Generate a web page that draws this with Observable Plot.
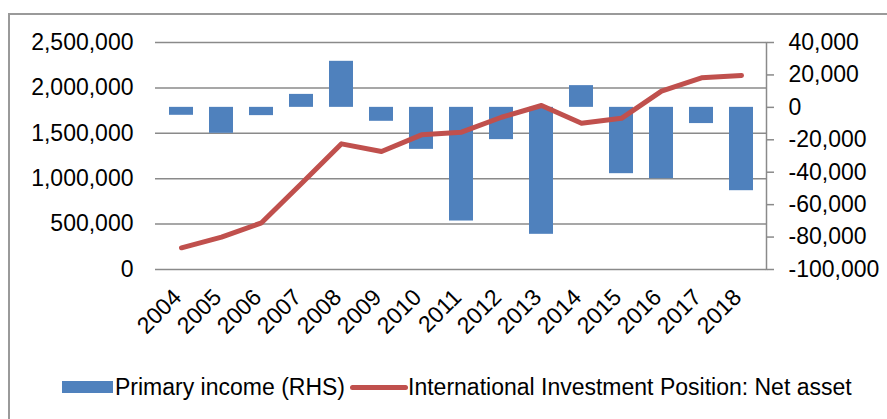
<!DOCTYPE html>
<html>
<head>
<meta charset="utf-8">
<script src="https://cdn.jsdelivr.net/npm/d3@7"></script>
<script src="https://cdn.jsdelivr.net/npm/@observablehq/plot@0.6"></script>
<style>
  html, body { margin: 0; padding: 0; background: #fff; }
  body { width: 887px; height: 419px; position: relative; overflow: hidden; font-family: "Liberation Sans", Arial, sans-serif; }
  #box { position: absolute; left: 8px; top: 13px; width: 900px; height: 420px; border-left: 2px solid #9a9a9a; border-top: 2px solid #9a9a9a; box-sizing: border-box; }
  #chart { position: absolute; left: 0; top: 0; }
  #legend { position: absolute; left: 62px; top: 370px; height: 34px; display: flex; align-items: center; font-size: 23px; color: #000; white-space: nowrap; }
  .sw-bar { width: 51px; height: 12px; background: #4f81bd; margin-right: 2px; }
  .sw-line { width: 58px; height: 5px; background: #c0504d; border-radius: 3px; margin-left: 5px; }
</style>
</head>
<body>
<div id="box"></div>
<div id="chart"></div>
<div id="legend">
  <div class="sw-bar"></div><span>Primary income (RHS)</span>
  <div class="sw-line"></div><span>International Investment Position: Net asset</span>
</div>
<script>
const years = ["2004","2005","2006","2007","2008","2009","2010","2011","2012","2013","2014","2015","2016","2017","2018"];
const netAsset = [239000, 356000, 514000, 947000, 1384000, 1299000, 1483000, 1512000, 1677000, 1806000, 1611000, 1665000, 1964000, 2111000, 2137000];
const primaryIncome = [-4900, -16000, -5100, 8000, 28400, -8600, -25900, -70100, -19900, -78300, 13400, -40900, -44000, -10000, -51400];
const leftTicks = [0, 500000, 1000000, 1500000, 2000000, 2500000];
const rightTicks = [-100000, -80000, -60000, -40000, -20000, 0, 20000, 40000];

const leftMax = 2500000, rightMin = -100000, rightMax = 40000;
const toLeft = v => (v - rightMin) / (rightMax - rightMin) * leftMax;
const fromLeft = v => v / leftMax * (rightMax - rightMin) + rightMin;
const fmt = v => d3.format(",")(v).replace("\u2212", "-");

const data = years.map((y, i) => ({year: y, iip: netAsset[i], income: primaryIncome[i]}));

const chart = Plot.plot({
  width: 887,
  height: 340,
  marginTop: 42,
  marginBottom: 71,
  marginLeft: 155,
  marginRight: 121,
  style: {fontFamily: "'Liberation Sans', Arial, sans-serif", fontSize: "23px", color: "#000", background: "transparent", overflow: "visible"},
  x: {type: "band", domain: years, paddingInner: 0.4, paddingOuter: 0.2},
  y: {domain: [0, leftMax]},
  marks: [
    Plot.gridY(leftTicks, {stroke: "#8a8a8a", strokeOpacity: 1, strokeWidth: 1.5}),
    Plot.axisY(leftTicks, {anchor: "left", tickSize: 0, tickPadding: 22, tickFormat: fmt, label: null}),
    Plot.axisY(rightTicks.map(toLeft), {anchor: "right", tickSize: 7, tickPadding: 15, stroke: "#8a8a8a", strokeOpacity: 1, strokeWidth: 1.5, tickFormat: d => fmt(Math.round(fromLeft(d))), label: null}),
    Plot.frame({anchor: "right", stroke: "#8a8a8a", strokeOpacity: 1, strokeWidth: 1.5}),
    Plot.barY(data, {x: "year", y1: toLeft(0), y2: d => toLeft(d.income), fill: "#4f81bd"}),
    Plot.line(data, {x: "year", y: "iip", stroke: "#c0504d", strokeWidth: 5, strokeLinecap: "round", strokeLinejoin: "round"}),
    Plot.axisX({tickRotate: -45, tickSize: 0, tickPadding: 24, dx: -4, label: null})
  ]
});
document.getElementById("chart").appendChild(chart);
</script>
</body>
</html>
